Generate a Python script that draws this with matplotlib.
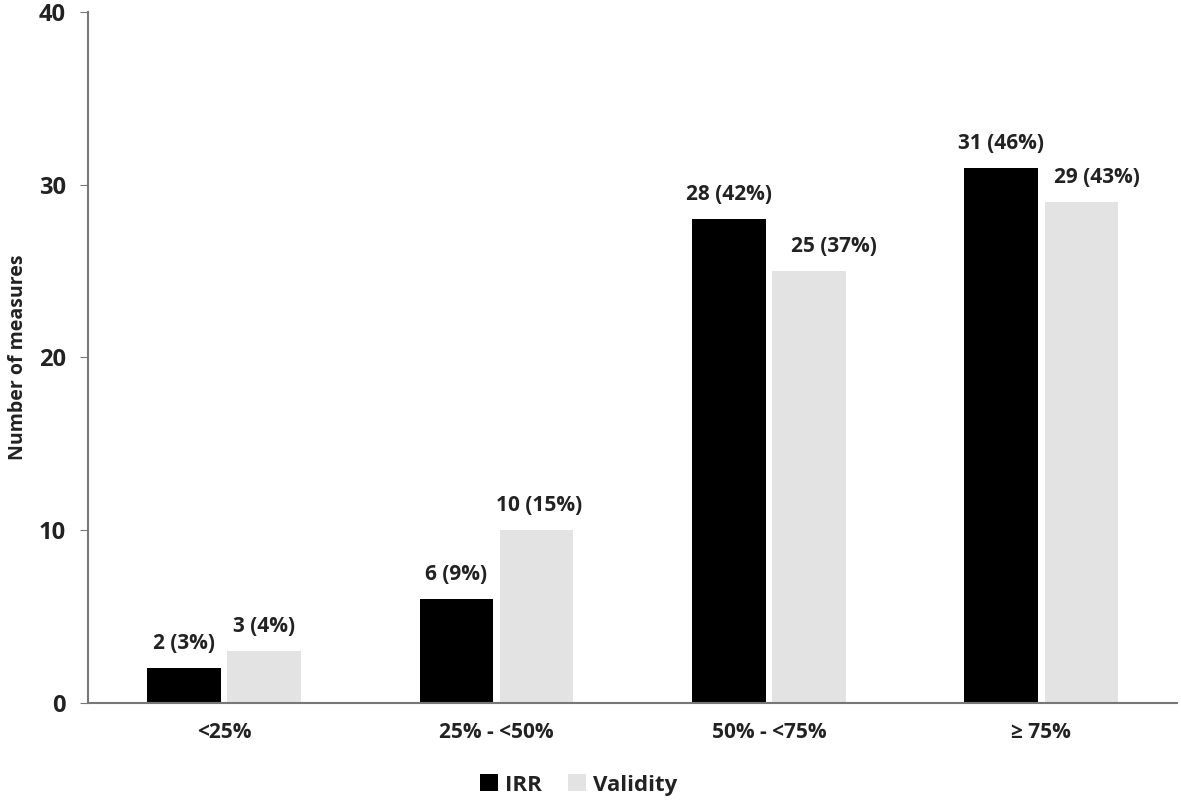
import matplotlib.pyplot as plt
import numpy as np

plt.rcParams['font.family'] = ['Open Sans', 'DejaVu Sans']

categories = ['<25%', '25% - <50%', '50% - <75%', '≥ 75%']
irr = [2, 6, 28, 31]
validity = [3, 10, 25, 29]
irr_labels = ['2 (3%)', '6 (9%)', '28 (42%)', '31 (46%)']
validity_labels = ['3 (4%)', '10 (15%)', '25 (37%)', '29 (43%)']
# hand-placed label nudges (points) as in the original
irr_nudge = [0, 0, 0, 0]
validity_nudge = [0, 2, 18, 11]

fig = plt.figure(figsize=(11.81, 8.06), dpi=100)
ax = fig.add_axes([0.0745, 0.128, 0.9225, 0.857])

x = np.arange(len(categories))
w = 0.27
b1 = ax.bar(x - 0.147, irr, w, color='black', label='IRR')
b2 = ax.bar(x + 0.147, validity, w, color='#e3e3e3', label='Validity')

for bars, labs, nud in ((b1, irr_labels, irr_nudge), (b2, validity_labels, validity_nudge)):
    for r, t, dx in zip(bars, labs, nud):
        ax.annotate(t, (r.get_x() + r.get_width() / 2, r.get_height()),
                    xytext=(dx, 10), textcoords='offset points',
                    ha='center', va='bottom', fontsize=15, fontweight='bold', color='#222222')

ax.set_xlim(-0.5, 3.5)
ax.set_ylim(0, 40)
ax.set_yticks([0, 10, 20, 30, 40])
ax.set_xticks(x)
ax.set_xticklabels(categories)
ax.tick_params(axis='x', length=0, pad=14)
ax.tick_params(axis='y', length=6, direction='out', pad=10, color='#777777')
for lab in ax.get_xticklabels():
    lab.set_fontsize(15)
    lab.set_fontweight('bold')
    lab.set_color('#222222')
for lab in ax.get_yticklabels():
    lab.set_fontsize(17)
    lab.set_fontweight('bold')
    lab.set_color('#222222')
ax.set_ylabel('Number of measures', fontsize=14, fontweight='bold', color='#222222', labelpad=8)

ax.spines['top'].set_visible(False)
ax.spines['right'].set_visible(False)
ax.spines['left'].set_color('#777777')
ax.spines['bottom'].set_color('#777777')
ax.spines['left'].set_linewidth(1.5)
ax.spines['bottom'].set_linewidth(1.5)

fig.legend(loc='lower center', bbox_to_anchor=(0.49, -0.012), ncol=2, frameon=False,
           prop={'size': 16, 'weight': 'bold'}, handlelength=0.8, handleheight=0.8,
           columnspacing=1.2, handletextpad=0.3, labelcolor='#222222')

fig.savefig('out.png', dpi=100)
